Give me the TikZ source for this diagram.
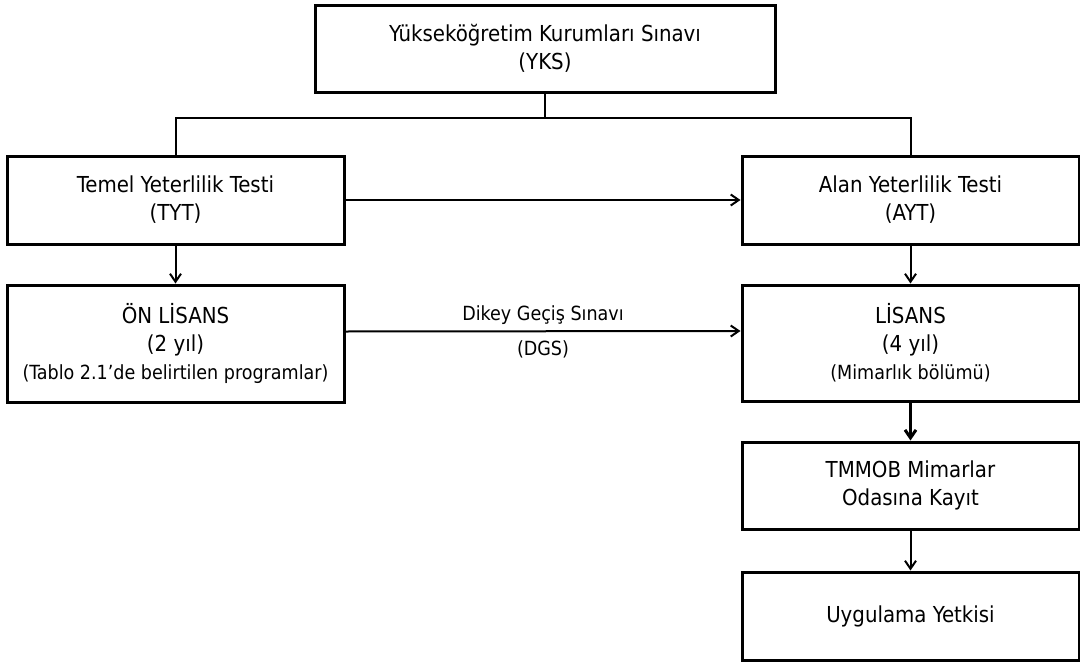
\documentclass[tikz,border=0pt]{standalone}
\usepackage{fontspec}
\setmainfont{DejaVu Sans Condensed}
\usetikzlibrary{arrows.meta}

\begin{document}
\begin{tikzpicture}[x=1pt,y=-1pt,
	box/.style={draw,line width=3pt,minimum width=337pt,minimum height=88pt,align=center,inner sep=0pt,font=\fontsize{22}{28}\selectfont},
	arr/.style={-{Straight Barb[length=8pt,width=11pt]},line width=2pt},
	small/.style={font=\fontsize{19.5}{26}\selectfont}]
	\useasboundingbox (0,0) rectangle (1080,664);

	\node[box,minimum width=460pt,minimum height=87pt] (yks) at (545,48.5) {Yükseköğretim Kurumları Sınavı\\(YKS)};
	\node[box] (tyt) at (175.5,200) {Temel Yeterlilik Testi\\(TYT)};
	\node[box] (ayt) at (910.5,200) {Alan Yeterlilik Testi\\(AYT)};
	\node[box,minimum height=117pt] (onl) at (175.5,343.5) {ÖN LİSANS\\(2 yıl)\\{\fontsize{19.5}{26}\selectfont(Tablo 2.1’de belirtilen programlar)}};
	\node[box,minimum height=116pt] (lis) at (910.5,343) {LİSANS\\(4 yıl)\\{\fontsize{19.5}{26}\selectfont(Mimarlık bölümü)}};
	\node[box,minimum height=87pt] (tmm) at (910.5,485.5) {TMMOB Mimarlar\\Odasına Kayıt};
	\node[box] (uyg) at (910.5,616) {Uygulama Yetkisi};

	\coordinate (split) at (545,117.5);
	\draw[line width=2pt] (yks.south) -- (split);
	\draw[line width=2pt] (tyt.north) |- (split) -| (ayt.north);

	\draw[arr] (tyt.east) -- (ayt.west);
	\draw[arr] ([yshift=12pt]onl.east) -- node[above=2pt,small] {Dikey Geçiş Sınavı} node[below=5pt,small] {(DGS)} ([yshift=12pt]lis.west);

	\draw[arr] (tyt.south) -- (onl.north);
	\draw[arr] (ayt.south) -- (lis.north);
	\draw[arr,line width=3pt] (lis.south) -- (tmm.north);
	\draw[arr] (tmm.south) -- (uyg.north);
\end{tikzpicture}
\end{document}
